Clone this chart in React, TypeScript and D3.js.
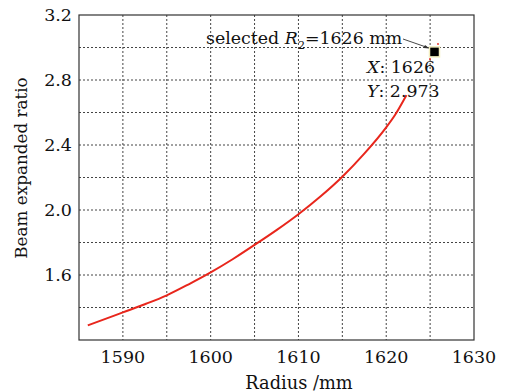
import React from 'react';
import * as d3 from 'd3';

// curve (radius mm -> beam expanded ratio)
const radius = [1586, 1590, 1592.5, 1595, 1597.5, 1600, 1602.5, 1605, 1607.5, 1610, 1612.5, 1615, 1617.5, 1620, 1621, 1622.3];
const ratio = [1.29, 1.37, 1.42, 1.475, 1.543, 1.616, 1.697, 1.785, 1.876, 1.974, 2.083, 2.205, 2.347, 2.509, 2.585, 2.707];

const xTicks = [1590, 1600, 1610, 1620, 1630];
const yTicks = [1.6, 2.0, 2.4, 2.8, 3.2];
const xGrid = [1590, 1595, 1600, 1605, 1610, 1615, 1620, 1625];
const yGrid = [1.4, 1.6, 1.8, 2.0, 2.2, 2.4, 2.6, 2.8, 3.0];

const selectedX = 1625.5;
const selectedY = 2.973;

const W = 513;
const H = 392;
const font = '"DejaVu Serif", serif';
const ink = '#111';

export default function App() {
  const x = d3.scaleLinear().domain([1585, 1630]).range([79, 474]);
  const y = d3.scaleLinear().domain([1.2, 3.2]).range([340, 15]);

  const pts: [number, number][] = radius.map((r, i) => [r, ratio[i]]);
  const line = d3.line<[number, number]>()
    .x(d => x(d[0]))
    .y(d => y(d[1]))
    .curve(d3.curveMonotoneX);

  const mx = x(selectedX);
  const my = y(selectedY);

  return (
    <svg width={W} height={H} style={{ position: 'absolute', left: 0, top: 0, background: '#fff' }} fontFamily={font}>
      {/* grid */}
      {xGrid.map(v => (
        <line key={'gx' + v} x1={x(v)} x2={x(v)} y1={15} y2={340} stroke="#444" strokeWidth={1} strokeDasharray="2,2" />
      ))}
      {yGrid.map(v => (
        <line key={'gy' + v} x1={79} x2={474} y1={y(v)} y2={y(v)} stroke="#444" strokeWidth={1} strokeDasharray="2,2" />
      ))}

      {/* frame */}
      <rect x={79} y={15} width={395} height={325} fill="none" stroke="#333" strokeWidth={1.2} />

      {/* curve */}
      <path d={line(pts) || ''} fill="none" stroke="#e8261c" strokeWidth={2} />

      {/* tick labels */}
      {xTicks.map(v => (
        <text key={'tx' + v} x={x(v)} y={363} textAnchor="middle" fontSize={17.5} fill={ink}>{v}</text>
      ))}
      {yTicks.map(v => (
        <text key={'ty' + v} x={72} y={y(v)} dy="0.36em" textAnchor="end" fontSize={17.5} fill={ink}>{v.toFixed(1)}</text>
      ))}

      {/* axis titles */}
      <text x={299} y={389} textAnchor="middle" fontSize={17.8} fill={ink}>Radius /mm</text>
      <text transform={`translate(27,168) rotate(-90)`} textAnchor="middle" fontSize={16.8} fill={ink}>Beam expanded ratio</text>

      {/* annotation */}
      <text x={206} y={44} fontSize={17.4} fill={ink}>
        selected <tspan fontStyle="italic">R</tspan><tspan fontSize={11} dy={5}>2</tspan><tspan dy={-5}>=1626 mm</tspan>
      </text>
      <line x1={403} y1={39} x2={mx - 6} y2={my - 4} stroke="#333" strokeWidth={0.9} />
      <path d={`M${mx - 5},${my - 3.5} l-6,-0.5 l1.5,-3 z`} fill="#333" />
      <rect x={mx - 5} y={my - 5} width={10} height={10} fill="#000" stroke="#f3eec0" strokeWidth={1.5} />
      <circle cx={438} cy={44} r={0.9} fill="#e8261c" />
      <circle cx={430} cy={59} r={0.9} fill="#e8261c" />
      <text x={367} y={73} fontSize={17.4} fill={ink}><tspan fontStyle="italic">X</tspan>: 1626</text>
      <text x={367} y={97} fontSize={17.4} fill={ink}><tspan fontStyle="italic">Y</tspan>: 2.973</text>
    </svg>
  );
}
